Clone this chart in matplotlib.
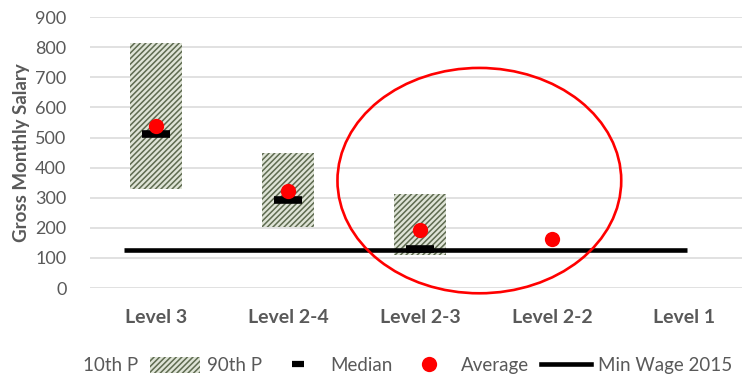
import numpy as np
import matplotlib
matplotlib.use("Agg")
import matplotlib.pyplot as plt
from matplotlib.patches import Patch, Ellipse
from matplotlib.lines import Line2D

# salary bands per level
categories = ['Level 3', 'Level 2-4', 'Level 2-3', 'Level 2-2', 'Level 1']
p10 = [330, 203, 109, np.nan, np.nan]
p90 = [814, 448, 313, np.nan, np.nan]
median = [511, 292, 129, np.nan, np.nan]
average = [539, 324, 193, 162, np.nan]
min_wage = 125
wage_span = [-0.24, 4.02]

# highlighted region (centre x, centre y, width, height)
circle_xy = (2.45, 357)
circle_w, circle_h = 2.15, 749

plt.rcParams['font.family'] = ['Lato', 'DejaVu Sans']
plt.rcParams['hatch.linewidth'] = 1.1
grey = '#595959'
hatch_col = '#5e6b50'
band_col = '#dfe4d7'

fig = plt.figure(figsize=(7.43, 3.83), dpi=100)
ax = fig.add_axes([90 / 743, 0.248, 652 / 743, 0.707])

x = np.arange(len(categories))
lo = np.array(p10)
hi = np.array(p90)

ax.bar(x, hi - lo, bottom=lo, width=0.4, facecolor=band_col,
       edgecolor=hatch_col, linewidth=0, hatch='//////', zorder=2)
ax.plot(x, median, linestyle='none', marker='_', markersize=20, mew=5.5,
        color='black', zorder=3)
ax.plot(x, average, linestyle='none', marker='o', markersize=11,
        color='#ff0000', mec='none', zorder=4)
ax.plot(wage_span, [min_wage, min_wage], color='black', lw=3.3, zorder=5,
        solid_capstyle='butt')

ax.add_patch(Ellipse(circle_xy, circle_w, circle_h, fill=False,
                     edgecolor='#ff0000', lw=1.9, zorder=6, clip_on=False))

ax.set_xlim(-0.5, 4.44)
ax.set_ylim(0, 900)
ax.set_yticks(np.arange(0, 901, 100))
ax.set_xticks(x)
ax.set_xticklabels(categories, fontweight='bold', color=grey, fontsize=14)
ax.tick_params(axis='x', length=0, pad=15)
ax.tick_params(axis='y', length=0, pad=17, labelcolor=grey, labelsize=13)
ax.grid(axis='y', color='#d9d9d9', lw=1.1, zorder=0)
ax.set_axisbelow(True)
for s in ax.spines.values():
    s.set_visible(False)
ax.set_ylabel('Gross Monthly Salary', fontweight='bold', color=grey,
              fontsize=13.5, labelpad=4)

handles = [
    Patch(facecolor='none', edgecolor='none'),
    Patch(facecolor=band_col, edgecolor=hatch_col, linewidth=0, hatch='//////'),
    Line2D([], [], linestyle='none', marker='_', markersize=9, mew=4.5, color='black'),
    Line2D([], [], linestyle='none', marker='o', markersize=11, color='#ff0000', mec='none'),
    Line2D([], [], color='black', lw=3.3),
]
labels = ['10th P', '90th P', 'Median', 'Average', 'Min Wage 2015']
leg = fig.legend(handles, labels, loc='center', bbox_to_anchor=(0.51, 0.045),
                 ncol=5, frameon=False, fontsize=13.5, handlelength=2.7,
                 handleheight=0.9, handletextpad=0.35, columnspacing=0.6,
                 labelcolor=grey)

fig.savefig('out.png', dpi=100)
